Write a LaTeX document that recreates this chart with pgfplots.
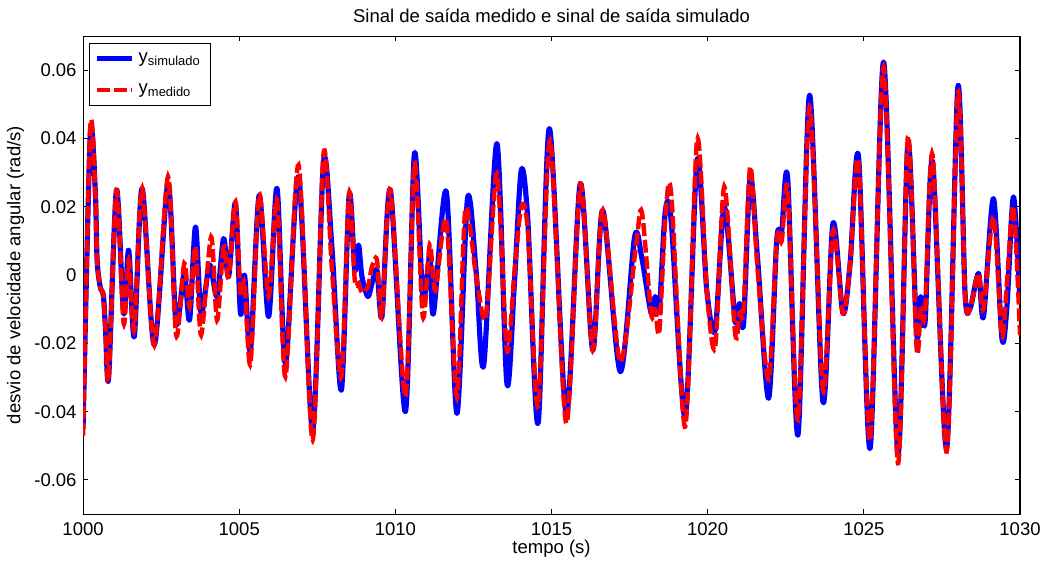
\documentclass[border=0pt]{standalone}
\usepackage{fontspec}
\setmainfont{Liberation Sans}
\usepackage{pgfplots}
\usepackage{pgfplotstable}
\pgfplotsset{compat=1.18}

\pgfplotstableread{
t v
1000.00 -0.045
1000.23 0.041
1000.39 0.025
1000.45 0.0044
1000.55 -0.0035
1000.65 -0.006
1000.72 -0.016
1000.82 -0.030
1001.07 0.0249
1001.30 -0.0112
1001.46 0.0073
1001.64 -0.018
1001.89 0.0254
1002.28 -0.0205
1002.72 0.0268
1002.98 -0.0141
1003.24 0.0005
1003.41 -0.0132
1003.60 0.0141
1003.78 -0.0112
1004.05 0.003
1004.29 -0.0063
1004.50 0.0107
1004.66 -0.0005
1004.88 0.021
1005.04 -0.0112
1005.17 0.0
1005.36 -0.022
1005.64 0.0234
1005.94 -0.0122
1006.21 0.0254
1006.48 -0.0259
1006.90 0.0288
1007.35 -0.0454
1007.70 0.0332
1007.97 0.0078
1008.27 -0.0337
1008.52 0.0234
1008.70 0.0015
1008.82 0.0088
1008.93 -0.0005
1009.12 -0.0063
1009.25 -0.0024
1009.41 0.0015
1009.57 -0.0122
1009.84 0.0249
1010.32 -0.040
1010.61 0.0356
1010.88 -0.0063
1011.10 0.0054
1011.22 -0.0112
1011.63 0.0244
1011.97 -0.0405
1012.31 0.0224
1012.59 0.0005
1012.83 -0.0263
1013.25 0.0385
1013.57 -0.0317
1013.81 -0.0024
1014.03 0.0307
1014.24 0.0161
1014.57 -0.0434
1014.93 0.0429
1015.47 -0.0405
1015.92 0.0268
1016.32 -0.022
1016.64 0.019
1017.20 -0.0283
1017.66 0.0112
1017.89 0.005
1018.19 -0.0112
1018.32 -0.0063
1018.45 -0.0102
1018.64 0.0185
1018.83 0.016
1019.28 -0.0415
1019.66 0.0337
1019.97 -0.0044
1020.24 -0.0161
1020.53 0.020
1020.88 -0.0132
1021.02 -0.0083
1021.15 -0.0141
1021.36 0.0288
1021.60 0.0044
1021.95 -0.0361
1022.21 0.0102
1022.37 0.013
1022.56 0.0283
1022.89 -0.0468
1023.26 0.0527
1023.69 -0.0371
1024.01 0.0151
1024.33 -0.0112
1024.56 0.0034
1024.83 0.0346
1025.20 -0.0507
1025.63 0.0624
1026.09 -0.0522
1026.41 0.0385
1026.69 -0.0171
1026.82 -0.0063
1026.96 -0.0137
1027.20 0.0332
1027.65 -0.0507
1028.01 0.0551
1028.24 -0.0054
1028.40 -0.0098
1028.67 0.0005
1028.83 -0.0122
1029.15 0.0224
1029.42 -0.0185
1029.58 -0.0093
1029.79 0.0229
1030.00 -0.008
}\simulado

\pgfplotstableread{
t v
1000.00 -0.047
1000.23 0.043
1000.39 0.025
1000.45 0.0044
1000.55 -0.0035
1000.65 -0.006
1000.72 -0.016
1000.82 -0.030
1001.07 0.0249
1001.30 -0.0141
1001.46 0.0044
1001.64 -0.016
1001.89 0.0254
1002.28 -0.0205
1002.72 0.0288
1002.98 -0.0176
1003.24 0.0034
1003.41 -0.0093
1003.60 0.0083
1003.78 -0.0176
1004.10 0.0112
1004.29 -0.0132
1004.50 0.0083
1004.66 -0.0005
1004.88 0.0215
1005.04 -0.0054
1005.17 -0.0024
1005.36 -0.0259
1005.64 0.0234
1005.94 -0.0063
1006.21 0.022
1006.48 -0.0298
1006.90 0.0322
1007.35 -0.0483
1007.70 0.0356
1007.97 0.0015
1008.27 -0.0298
1008.52 0.0239
1008.70 -0.0015
1008.82 -0.0024
1008.93 -0.005
1009.12 -0.0034
1009.25 0.0024
1009.41 0.0044
1009.57 -0.0122
1009.84 0.0249
1010.32 -0.0356
1010.61 0.0327
1010.88 -0.0122
1011.10 0.0088
1011.28 -0.0044
1011.63 0.0161
1011.97 -0.0356
1012.24 0.019
1012.59 -0.0005
1012.90 -0.0122
1013.25 0.0298
1013.57 -0.022
1013.81 0.0005
1014.03 0.020
1014.24 0.0132
1014.57 -0.0385
1014.95 0.0395
1015.47 -0.0434
1015.92 0.0268
1016.32 -0.022
1016.64 0.019
1017.20 -0.0254
1017.70 0.0083
1017.89 0.0185
1018.19 -0.0112
1018.32 -0.010
1018.45 -0.0166
1018.64 0.016
1018.83 0.0239
1019.28 -0.0444
1019.66 0.0395
1019.97 -0.0044
1020.24 -0.021
1020.53 0.0259
1020.88 -0.0171
1021.02 -0.011
1021.15 -0.010
1021.36 0.0317
1021.60 0.0015
1021.95 -0.0307
1022.21 0.0102
1022.37 0.010
1022.56 0.0249
1022.89 -0.0424
1023.26 0.0493
1023.69 -0.0337
1024.01 0.013
1024.33 -0.0112
1024.56 0.0034
1024.83 0.033
1025.20 -0.0483
1025.63 0.061
1026.09 -0.0551
1026.41 0.0405
1026.69 -0.0215
1026.82 -0.010
1026.96 -0.0112
1027.20 0.0351
1027.65 -0.0517
1028.01 0.0532
1028.24 -0.0054
1028.40 -0.0098
1028.67 0.0005
1028.83 -0.010
1029.15 0.0171
1029.42 -0.0176
1029.58 -0.0024
1029.79 0.020
1030.00 -0.0176
}\medido

\begin{document}
\begin{tikzpicture}
\begin{axis}[
  scale only axis,
  width=506.5pt, height=258.4pt,
  xmin=1000, xmax=1030, ymin=-0.07, ymax=0.07,
  scaled x ticks=false, scaled y ticks=false,
  xtick={1000,1005,1010,1015,1020,1025,1030},
  xticklabels={1000,1005,1010,1015,1020,1025,1030},
  ytick={-0.06,-0.04,-0.02,0,0.02,0.04,0.06},
  yticklabels={-0.06,-0.04,-0.02,0,0.02,0.04,0.06},
  tick align=inside, tick pos=both,
  major tick length=2.7pt,
  tick style={black, line width=0.5pt},
  axis line style={black, line width=0.6pt},
  xticklabel style={yshift=-1pt},
  every axis title shift=0pt,
  title={Sinal de saída medido e sinal de saída simulado},
  title style={at={(axis description cs:0.5,1)}, anchor=base, yshift=7.6pt},
  xlabel={tempo (s)},
  xlabel style={at={(axis description cs:0.5,-0.0817)}, anchor=base},
  ylabel={desvio de velocidade angular (rad/s)},
  ylabel style={at={(axis description cs:-0.0669,0.5)}, anchor=base},
  legend style={at={(axis description cs:0.006,0.986)}, anchor=north west,
    draw=black, line width=0.5pt, row sep=6pt, inner sep=3pt},
  legend cell align=left,
  legend image code/.code={\draw[#1] (0pt,0pt) -- (19pt,0pt);},
]
\addplot[color={rgb,255:red,0;green,0;blue,255}, line width=2.8pt, smooth, tension=0.5, line join=round] table[x=t,y=v] {\simulado};
\addlegendentry{y\textsubscript{simulado}}
\addplot[color={rgb,255:red,255;green,0;blue,0}, line width=2.4pt, smooth, tension=0.5, dash pattern=on 7pt off 2pt] table[x=t,y=v] {\medido};
\addlegendentry{y\textsubscript{medido}}
\end{axis}
\pgfresetboundingbox
\path[use as bounding box] ([xshift=-44.9pt,yshift=-25.9pt]current axis.south west) rectangle ([xshift=13.5pt,yshift=19.5pt]current axis.north east);
\end{tikzpicture}
\end{document}
